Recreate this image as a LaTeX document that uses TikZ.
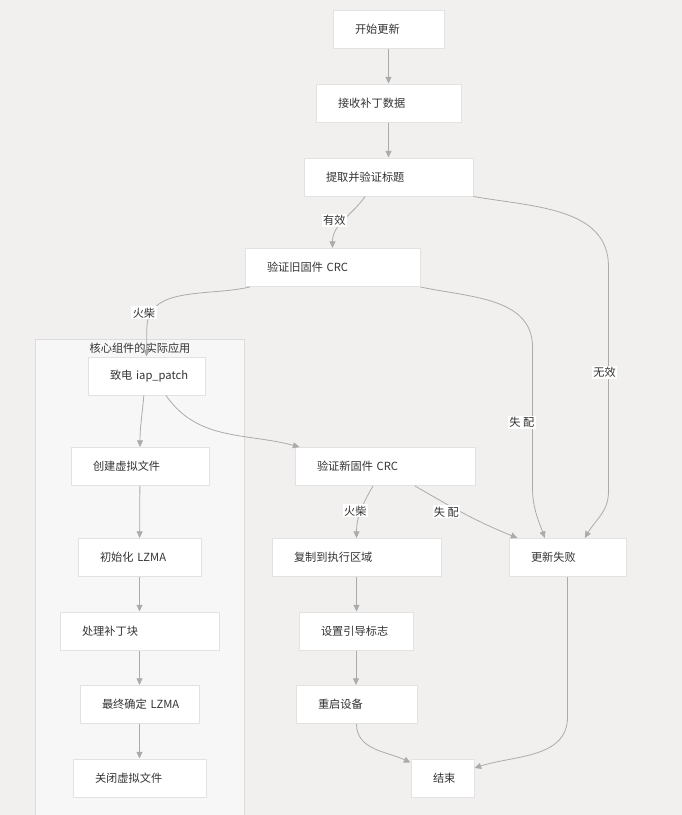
\documentclass[tikz,border=0pt]{standalone}
\usepackage{fontspec}
\setmainfont{Noto Sans CJK SC}
\usetikzlibrary{arrows.meta,positioning}
\definecolor{PageBack}{HTML}{F1F0EE}
\definecolor{ClusterBack}{HTML}{F7F7F7}
\definecolor{ClusterLine}{HTML}{DCDCDC}
\definecolor{NodeLine}{HTML}{E2E2E2}
\definecolor{NodeText}{HTML}{333333}
\definecolor{EdgeLine}{HTML}{ABABAB}
\newcommand\diagfont{\fontsize{8.4pt}{10pt}\selectfont}
\tikzset{every node/.style={font=\diagfont,text=NodeText},
 block/.style={draw=NodeLine,fill=white,line width=0.75pt,minimum height=28.5pt,
 inner xsep=16.5pt,inner ysep=0pt,align=left,text width=#1},
 lbl/.style={fill=white,inner sep=1pt},
 flow/.style={draw=EdgeLine,line width=0.6pt,-{Triangle[length=5pt,width=4.5pt]}}}

\begin{document}
\begin{tikzpicture}[x=0.75pt,y=-0.75pt]
\fill[PageBack] (0,0) rectangle (682,815);
\useasboundingbox (0,0) rectangle (682,815);
\draw[ClusterLine,fill=ClusterBack] (35,339) rectangle (244,822);
\node (core) at (140,348) {核心组件的实际应用};
% main column
\node[block=50.25pt] (start) at (388.5,29) {开始更新};
\node[block=75.75pt] (recv) at (388.5,103) {接收补丁数据};
\node[block=93.75pt] (extract) at (388.5,177) {提取并验证标题};
\node[block=98.25pt] (oldcrc) at (332.5,267.5) {验证旧固件 CRC};
% core component
\node[block=54.75pt] (call) at (146.5,376) {\mbox{致电 iap\_patch}};
\node[block=70.5pt] (create) at (140,466.5) {创建虚拟文件};
\node[block=59.25pt] (init) at (139.5,557.5) {\mbox{初始化 LZMA}};
\node[block=86.25pt] (process) at (139.5,631) {处理补丁块};
\node[block=56.25pt] (finalize) at (139.5,704.5) {\mbox{最终确定 LZMA}};
\node[block=66.75pt] (close) at (139.5,778) {关闭虚拟文件};
% right part
\node[block=102pt] (newcrc) at (385,466.5) {验证新固件 CRC};
\node[block=93.75pt] (copy) at (356.5,557.5) {复制到执行区域};
\node[block=52.5pt] (boot) at (356,631) {设置引导标志};
\node[block=57.75pt] (restart) at (356.5,704.5) {重启设备};
\node[block=54.75pt] (fail) at (567.5,557.5) {更新失败};
\node[block=14.25pt] (finish) at (442.5,778) {\mbox{结束}};
% connectors
\draw[flow] (start)--(recv);
\draw[flow] (recv)--(extract);
\draw[flow] ([xshift=-17.6pt]extract.south) to[out=-125,in=90]
 node[lbl,xshift=-7pt]{有效} (oldcrc.north);
\draw[flow] (extract.south east) to[out=-10,in=90] ++(135,70)
 -- node[lbl,pos=0.47,xshift=-3pt]{无效} ++(0,225) to[out=-90,in=60] ([xshift=13pt]fail.north);
\draw[flow] (oldcrc.south east) to[out=-12,in=90] ++(112,60)
 -- node[lbl,pos=0.54,xshift=-8pt]{失 配} ++(0,140) to[out=-90,in=110] ([xshift=-17pt]fail.north);
\draw[flow] ([xshift=4pt]oldcrc.south west) to[out=193,in=90]
 node[lbl,pos=0.85,xshift=-5pt]{火柴} ++(-103,42) -- (call.north);
\draw[flow] ([xshift=-2pt]call.south) to[out=-95,in=90] (create.north);
\draw[flow] ([xshift=14.6pt]call.south) to[out=-55,in=165] ([xshift=3.75pt]newcrc.north west);
\draw[flow] (create)--(init);
\draw[flow] (init)--(process);
\draw[flow] (process)--(finalize);
\draw[flow] (finalize)--(close);
\draw[flow] ([xshift=-9pt]newcrc.south) to[out=-120,in=90] node[lbl,xshift=-4pt]{火柴} (copy.north);
\draw[flow] ([xshift=22.5pt]newcrc.south) to[out=-30,in=158]
 node[lbl,pos=0.3,yshift=-6pt]{失 配} ([xshift=6.75pt]fail.north west);
\draw[flow] (copy.south)--(copy.south|-boot.north);
\draw[flow] (boot.south)--(boot.south|-restart.north);
\draw[flow] (restart.south) to[out=-90,in=155] ([yshift=-3pt]finish.north west);
\draw[flow] (fail.south) -- ++(0,140) to[out=-90,in=18] ([yshift=7.5pt]finish.east);
\end{tikzpicture}
\end{document}
